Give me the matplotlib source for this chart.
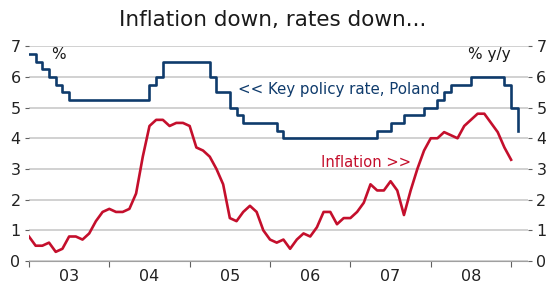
import matplotlib
matplotlib.use("Agg")
import matplotlib.pyplot as plt
import numpy as np
import pandas as pd

# monthly data, Dec 2002 onwards
rate = [6.75, 6.5, 6.25, 6.0, 5.75, 5.5,
        5.25, 5.25, 5.25, 5.25, 5.25, 5.25, 5.25, 5.25, 5.25, 5.25, 5.25, 5.25,
        5.75, 6.0, 6.5, 6.5, 6.5, 6.5, 6.5, 6.5, 6.5,
        6.0, 5.5, 5.5, 5.0, 4.75, 4.5, 4.5, 4.5, 4.5, 4.5, 4.25,
        4.0, 4.0, 4.0, 4.0, 4.0, 4.0, 4.0, 4.0, 4.0, 4.0, 4.0, 4.0, 4.0, 4.0,
        4.25, 4.25, 4.5, 4.5, 4.75, 4.75, 4.75, 5.0, 5.0, 5.25, 5.5,
        5.75, 5.75, 5.75, 6.0, 6.0, 6.0, 6.0, 6.0, 5.75, 5.0, 4.25]
inflation = [0.8,
             0.5, 0.5, 0.6, 0.3, 0.4, 0.8, 0.8, 0.7, 0.9, 1.3, 1.6, 1.7,
             1.6, 1.6, 1.7, 2.2, 3.4, 4.4, 4.6, 4.6, 4.4, 4.5, 4.5, 4.4,
             3.7, 3.6, 3.4, 3.0, 2.5, 1.4, 1.3, 1.6, 1.8, 1.6, 1.0, 0.7,
             0.6, 0.7, 0.4, 0.7, 0.9, 0.8, 1.1, 1.6, 1.6, 1.2, 1.4, 1.4,
             1.6, 1.9, 2.5, 2.3, 2.3, 2.6, 2.3, 1.5, 2.3, 3.0, 3.6, 4.0,
             4.0, 4.2, 4.1, 4.0, 4.4, 4.6, 4.8, 4.8, 4.5, 4.2, 3.7, 3.3]
year_labels = ['03', '04', '05', '06', '07', '08']

months = pd.date_range('2002-12-01', periods=len(rate), freq='MS')
x_rate = months.year + months.month / 12
x_infl = x_rate[:len(inflation)]

navy = '#0f3b6c'
red = '#c40f2c'
grid_c = '#c9c9c9'

fig = plt.figure(figsize=(5.46, 2.85), dpi=100)
ax = fig.add_axes([0.053, 0.084, 0.914, 0.754])

ax.set_ylim(0, 7)
ax.set_xlim(2003.0, 2009.21)
ax.set_yticks(range(0, 8))
ax.grid(axis='y', color=grid_c, linewidth=1.2)
ax.set_axisbelow(True)
for s in ['top', 'left', 'right']:
    ax.spines[s].set_visible(False)
ax.spines['bottom'].set_color('#a0a0a0')

ax.step(x_rate, rate, where='post', color=navy, linewidth=1.9)
ax.plot(x_infl, inflation, color=red, linewidth=1.9, solid_joinstyle='round')

# year boundaries as ticks, labels centred in each year
ax.set_xticks(np.arange(2003, 2010))
ax.set_xticklabels([])
ax.set_xticks(np.arange(2003.5, 2009), minor=True)
ax.set_xticklabels(year_labels, minor=True)
ax.tick_params(axis='x', which='major', length=4, color='#606060', direction='out')
ax.tick_params(axis='x', which='minor', length=0, pad=6, labelsize=11.5, labelcolor='#222222')
ax.tick_params(axis='y', left=True, right=True, labelleft=True, labelright=True,
               length=3, color='#606060', labelsize=11.5, labelcolor='#222222', pad=3)

ax.text(2003.27, 6.72, '%', fontsize=11, color='#1a1a1a',
        ha='left', va='center')
ax.text(2009.0, 6.72, '% y/y', fontsize=11, color='#1a1a1a',
        ha='right', va='center')
ax.text(2005.6, 5.6, '<< Key policy rate, Poland', fontsize=10.8, color=navy,
        ha='left', va='center')
ax.text(2006.63, 3.2, 'Inflation >>', fontsize=10.6, color=red,
        ha='left', va='center')

fig.suptitle('Inflation down, rates down...', x=0.5, y=0.965, fontsize=15.5,
             color='#1a1a1a')

fig.savefig('out.png', dpi=100)
